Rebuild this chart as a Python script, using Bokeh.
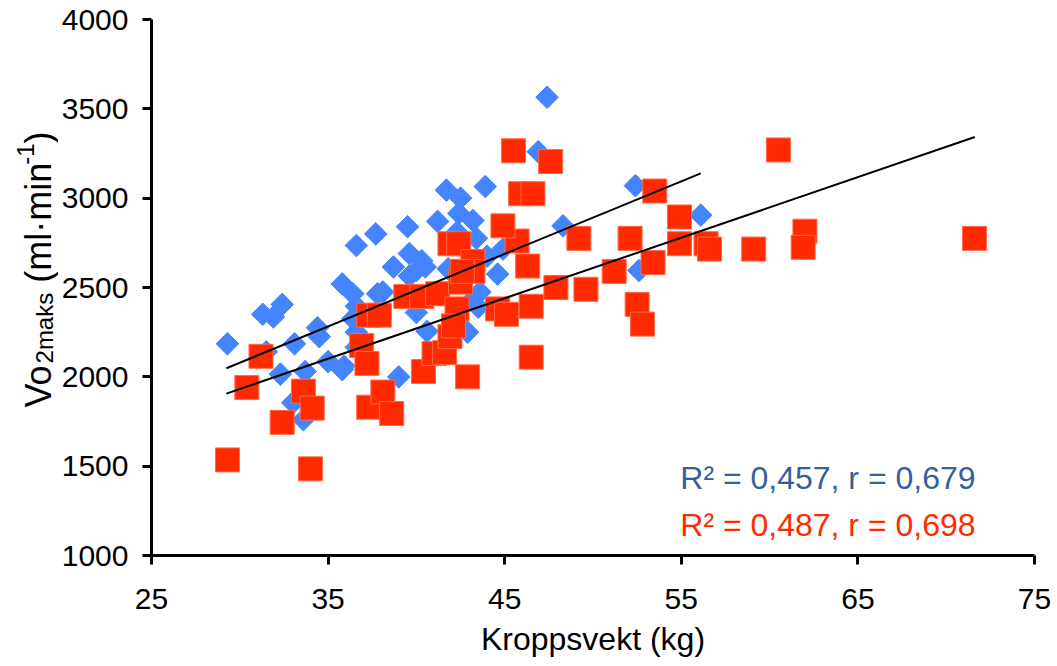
import math
from bokeh.plotting import figure
from bokeh.layouts import row
from bokeh.models import Label, Range1d, FixedTicker
from bokeh.core.properties import value
from bokeh.embed import file_html
from bokeh.resources import INLINE

# ---------------- data ----------------
x_ticks = [25, 35, 45, 55, 65, 75]
y_ticks = [1000, 1500, 2000, 2500, 3000, 3500, 4000]

blue_x = [29.3, 31.3, 31.9, 32.4, 31.5, 33.1, 34.4, 34.5, 32.3, 33.7,
          35.0, 35.8, 33.0, 33.6, 35.8, 36.4, 37.8, 36.6, 36.4, 36.6,
          37.7, 38.7, 39.5, 39.6, 39.6, 40.3, 40.0, 41.2, 41.7, 42.5,
          43.9, 42.4, 43.2, 42.3, 43.4, 44.9, 44.6, 44.0, 41.8, 43.6,
          43.2, 38.1, 36.6, 39.0, 40.6, 36.6, 43.5, 42.9, 47.4, 46.9,
          48.3, 52.4, 56.1, 52.6, 40.0, 35.9, 40.5]
blue_y = [2185, 2350, 2335, 2405, 2140, 2185, 2275, 2225, 2015, 2030,
          2085, 2040, 1855, 1760, 2520, 2465, 2465, 2395, 2325, 2735,
          2800, 2615, 2840, 2690, 2565, 2650, 2595, 2870, 3045, 3000,
          3065, 2915, 2875, 2810, 2775, 2715, 2575, 2675, 2605, 2475,
          2435, 2475, 2165, 2000, 2255, 2250, 2390, 2250, 3565, 3260,
          2845, 3070, 2905, 2595, 2360, 2060, 2615]

red_x = [29.3, 30.4, 31.2, 32.4, 33.6, 34.0, 34.1, 36.9, 37.2, 37.3,
         37.3, 37.9, 38.1, 38.6, 39.4, 40.3, 40.4, 41.0, 41.6, 41.9,
         41.2, 42.3, 42.5, 41.9, 42.4, 43.2, 42.9, 44.6, 45.1, 46.5,
         46.3, 45.7, 44.9, 45.5, 47.6, 45.9, 46.6, 46.5, 47.9, 49.2,
         49.6, 51.2, 52.1, 52.5, 52.8, 53.4, 53.5, 54.9, 54.9, 56.4,
         56.6, 59.1, 60.5, 62.0, 61.9, 71.6, 42.1, 43.2, 42.6]
red_y = [1535, 1940, 2115, 1745, 1920, 1485, 1825, 2175, 2075, 1830,
         2345, 2345, 1915, 1795, 2450, 2450, 2030, 2130, 2135, 2225,
         2465, 2380, 2530, 2745, 2745, 2645, 2000, 2380, 2350, 2395,
         2620, 2760, 2845, 3265, 3205, 3025, 3025, 2110, 2500, 2775,
         2490, 2590, 2775, 2405, 2295, 2640, 3040, 2895, 2745, 2745,
         2715, 2715, 3270, 2815, 2725, 2775, 2285, 2590, 2590]

blue_trend_x = [29.24, 56.1]
blue_trend_y = [2048, 3139]
red_trend_x = [29.24, 71.62]
red_trend_y = [1906, 3342]

blue_stats = "R² = 0,457, r = 0,679"
red_stats = "R² = 0,487, r = 0,698"
x_title = "Kroppsvekt (kg)"
y_title_parts = ["Vo", "2maks", " (ml·min", "-1", ")"]

# ---------------- layout ----------------
W, H = 1057, 666
TW = 58                      # width of the strip holding the y title
LEFT, RIGHT, TOP, BOTTOM = 150, 23, 19, 111
X_MIN, X_MAX = 25, 75
Y_MIN, Y_MAX = 1000, 4000
FX0, FX1 = LEFT, W - RIGHT
FY0, FY1 = TOP, H - BOTTOM

def dx(px):
    return X_MIN + (px - FX0) * (X_MAX - X_MIN) / (FX1 - FX0)

def dy(py):
    return Y_MIN + (FY1 - py) * (Y_MAX - Y_MIN) / (FY1 - FY0)

FONT = "Liberation Sans"
BLUE = "#4485FF"
RED = "#FF2A00"

# ---- y title strip (its frame is aligned with the main frame: rows 19..555) ----
tf = figure(width=TW, height=H, output_backend="svg", toolbar_location=None,
            x_range=Range1d(0, TW), y_range=Range1d(H - FY1, H - FY0),
            x_axis_type=None, y_axis_type=None, min_border=0,
            min_border_top=TOP, min_border_bottom=BOTTOM)
tf.outline_line_color = None
tf.xgrid.visible = False
tf.ygrid.visible = False

CW = {"V": 667, "o": 556, "2": 556, "m": 833, "a": 556, "k": 500, "s": 500,
      " ": 278, "(": 333, "l": 222, "·": 278, "i": 222, "n": 556, "-": 333,
      "1": 556, ")": 333}

def text_width(s, fs):
    return sum(CW.get(c, 556) for c in s) / 1000 * fs

MAIN, SMALL = 36, 24
sizes = [MAIN, SMALL, MAIN, SMALL, MAIN]
shifts = [0, 6, 0, -13, 0]
base_x = 38
cur_y = 407
for txt, fs, sh in zip(y_title_parts, sizes, shifts):
    body = txt.lstrip(" ")
    cur_y -= text_width(txt[:len(txt) - len(body)], fs)   # leading space advance
    tf.text(x=[base_x + sh], y=[H - cur_y], text=[body], angle=math.pi / 2,
            text_align="left", text_baseline="alphabetic",
            text_font=value(FONT), text_font_size=f"{fs}px", text_color="black")
    cur_y -= text_width(body, fs)

# ---- main plot ----
p = figure(width=W - TW, height=H, output_backend="svg", toolbar_location=None,
           x_range=Range1d(X_MIN, X_MAX), y_range=Range1d(Y_MIN, Y_MAX),
           min_border_left=LEFT - TW, min_border_right=RIGHT,
           min_border_top=TOP, min_border_bottom=BOTTOM)
p.outline_line_color = None
p.xgrid.visible = False
p.ygrid.visible = False

for ax in (p.xaxis[0], p.yaxis[0]):
    ax.axis_line_width = 3
    ax.axis_line_color = "black"
    ax.major_tick_line_width = 3
    ax.major_tick_line_color = "black"
    ax.major_tick_in = 0
    ax.major_tick_out = 9
    ax.minor_tick_line_color = None
    ax.major_label_text_font = FONT
    ax.major_label_text_font_size = "30px"
    ax.major_label_text_color = "black"

p.xaxis.ticker = FixedTicker(ticks=x_ticks)
p.yaxis.ticker = FixedTicker(ticks=y_ticks)
p.xaxis.major_label_standoff = 24
p.yaxis.major_label_standoff = 14
p.xaxis.axis_label = x_title
p.xaxis.axis_label_text_font = FONT
p.xaxis.axis_label_text_font_size = "32px"
p.xaxis.axis_label_text_font_style = "normal"
p.xaxis.axis_label_text_color = "black"
p.xaxis.axis_label_standoff = 9

# points
p.scatter(blue_x, blue_y, marker="square", size=16, angle=math.pi / 4,
          fill_color=BLUE, line_color=BLUE, line_width=1)
p.scatter(red_x, red_y, marker="square", size=24,
          fill_color=RED, line_color="#FF6A4A", line_width=1)

# trend lines
p.line(blue_trend_x, blue_trend_y, line_color="black", line_width=2)
p.line(red_trend_x, red_trend_y, line_color="black", line_width=2)

# stats text
p.add_layout(Label(x=dx(975), y=dy(477), text=blue_stats, text_align="right",
                   text_baseline="alphabetic", text_font=FONT,
                   text_font_size="32px", text_color="#36609A"))
p.add_layout(Label(x=dx(975), y=dy(524), text=red_stats, text_align="right",
                   text_baseline="alphabetic", text_font=FONT,
                   text_font_size="32px", text_color=RED))

layout = row(tf, p)
open("out.html", "w").write(file_html(layout, INLINE))
